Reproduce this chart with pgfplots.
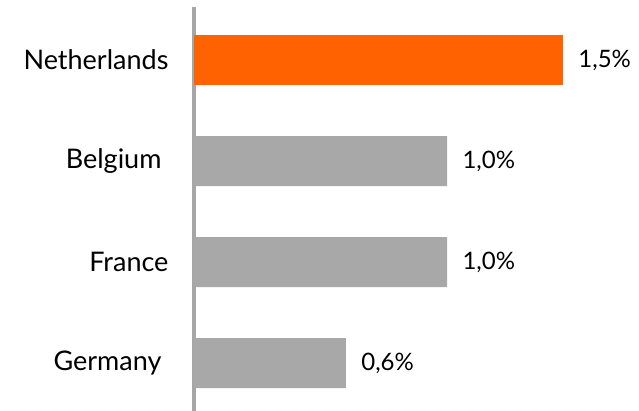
\documentclass[border=0pt]{standalone}
\usepackage{pgfplots}
\pgfplotsset{compat=1.18}
\usepackage{fontspec}
\setmainfont{Lato}
\definecolor{ingorange}{HTML}{FF6200}
\definecolor{inggray}{HTML}{A8A8A8}
\definecolor{axisgray}{HTML}{A6A6A6}
\begin{document}
\begin{tikzpicture}[x=1pt,y=1pt]
\useasboundingbox (0,0) rectangle (639,411);
\begin{axis}[
  at={(194pt,0pt)}, anchor=south west,
  scale only axis,
  width=379.5pt, height=404pt,
  xmin=0, xmax=1.5,
  ymin=-0.525, ymax=3.475,
  y dir=reverse,
  axis x line=none,
  axis y line*=left,
  y axis line style={axisgray, line width=3.5pt, -},
  major tick length=0pt,
  clip=false,
  ytick={0,1,2,3},
  yticklabels={Netherlands,Belgium\kern7pt,France,Germany\kern7pt},
  yticklabel style={anchor=east, xshift=-22pt, font=\fontsize{27}{30}\selectfont, text=black},
  xtick=\empty,
  xbar, bar width=50pt,
  nodes near coords,
  point meta=explicit symbolic,
  every node near coord/.append style={anchor=west, xshift=12pt, font=\fontsize{24}{27}\selectfont, text=black},
]
\addplot[draw=none, fill=ingorange, bar shift=0pt] coordinates {(1.458,0) [1,5\%]};
\addplot[draw=none, fill=inggray, bar shift=0pt] coordinates {(1.0,1) [1,0\%] (1.0,2) [1,0\%] (0.6,3) [0,6\%]};
\end{axis}
\end{tikzpicture}
\end{document}
